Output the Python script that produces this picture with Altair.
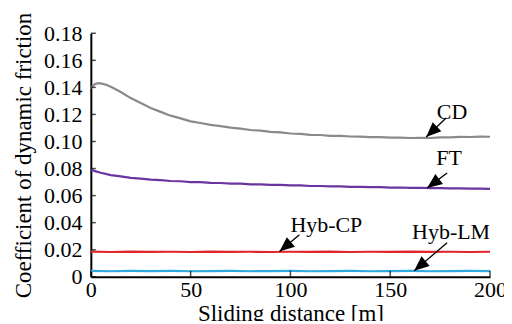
import math
import altair as alt
import pandas as pd

# ---------------- data ----------------
cd_x = [0, 2, 4, 6, 8, 10, 15, 20, 25, 30, 35, 40, 45, 50, 55, 60, 65, 70, 75, 80,
        85, 90, 95, 100, 105, 110, 115, 120, 125, 130, 135, 140, 145, 150, 155, 160,
        165, 170, 175, 180, 185, 190, 195, 200]
cd_y = [0.1395, 0.1425, 0.1431, 0.1426, 0.1418, 0.1405, 0.1366, 0.1321, 0.1284, 0.1247,
        0.1219, 0.1191, 0.1171, 0.1149, 0.1137, 0.1123, 0.1114, 0.1102, 0.1095, 0.1085,
        0.1080, 0.1071, 0.1067, 0.1059, 0.1056, 0.1049, 0.1048, 0.1042, 0.1041, 0.1037,
        0.1036, 0.1032, 0.1032, 0.1029, 0.1029, 0.1026, 0.1027, 0.1026, 0.1030, 0.1030,
        0.1034, 0.1033, 0.1036, 0.1035]

ft_x = [0, 2, 5, 10, 15, 20, 25, 30, 35, 40, 45, 50, 55, 60, 65, 70, 75, 80, 85, 90,
        95, 100, 105, 110, 115, 120, 125, 130, 135, 140, 145, 150, 155, 160, 165, 170,
        175, 180, 185, 190, 195, 200]
ft_y = [0.0795, 0.0781, 0.0769, 0.0751, 0.0742, 0.0731, 0.0726, 0.0718, 0.0715, 0.0708,
        0.0706, 0.0700, 0.0699, 0.0694, 0.0693, 0.0688, 0.0688, 0.0683, 0.0683, 0.0679,
        0.0679, 0.0675, 0.0675, 0.0671, 0.0671, 0.0668, 0.0668, 0.0665, 0.0665, 0.0662,
        0.0662, 0.0659, 0.0660, 0.0657, 0.0658, 0.0655, 0.0656, 0.0653, 0.0654, 0.0651,
        0.0652, 0.0650]

cp_x = [0, 10, 20, 30, 40, 50, 60, 70, 80, 90, 100, 110, 120, 130, 140, 150, 160, 170,
        180, 190, 200]
cp_y = [0.0186, 0.0183, 0.0186, 0.0184, 0.0185, 0.0183, 0.0186, 0.0184, 0.0185, 0.0183,
        0.0185, 0.0184, 0.0186, 0.0183, 0.0185, 0.0184, 0.0186, 0.0184, 0.0185, 0.0183,
        0.0185]

lm_x = [0, 10, 20, 30, 40, 50, 60, 70, 80, 90, 100, 110, 120, 130, 140, 150, 160, 170,
        180, 190, 200]
lm_y = [0.0043, 0.0041, 0.0043, 0.0042, 0.0043, 0.0041, 0.0042, 0.0043, 0.0041, 0.0042,
        0.0043, 0.0041, 0.0042, 0.0043, 0.0041, 0.0042, 0.0043, 0.0041, 0.0042, 0.0043,
        0.0042]

series_names = ["CD", "FT", "Hyb-CP", "Hyb-LM"]
series_colors = ["#8a8a8a", "#6a35a0", "#e0262b", "#2fa9df"]

x_ticks = [0, 50, 100, 150, 200]
y_ticks = [0, 0.02, 0.04, 0.06, 0.08, 0.10, 0.12, 0.14, 0.16, 0.18]

# annotations: label, text position, arrow tail, arrow tip (data units)
ann_label = ["CD", "FT", "Hyb-CP", "Hyb-LM"]
ann_text_x = [181, 179.5, 118, 180.5]
ann_text_y = [0.1217, 0.0878, 0.0384, 0.0330]
ann_tail_x = [178, 178.5, 104.5, 178.5]
ann_tail_y = [0.1173, 0.0767, 0.0310, 0.0251]
ann_tip_x = [168, 168.5, 94.5, 162]
ann_tip_y = [0.1033, 0.0657, 0.0186, 0.0044]

# ---------------- build ----------------
W, H = 400, 244
X_MAX, Y_MAX = 200, 0.18
FONT = "Liberation Serif"

rows = []
for name, xs_, ys_ in [("CD", cd_x, cd_y), ("FT", ft_x, ft_y),
                       ("Hyb-CP", cp_x, cp_y), ("Hyb-LM", lm_x, lm_y)]:
    for xv, yv in zip(xs_, ys_):
        rows.append({"series": name, "x": xv, "y": yv})
df = pd.DataFrame(rows)

kx = W / X_MAX
ky = H / Y_MAX
angles = []
for tx, ty, px, py in zip(ann_tail_x, ann_tail_y, ann_tip_x, ann_tip_y):
    dx = (px - tx) * kx
    dy = -(py - ty) * ky
    angles.append(math.degrees(math.atan2(dx, -dy)) % 360)

ann = pd.DataFrame({
    "label": ann_label, "tx": ann_text_x, "ty": ann_text_y,
    "ax": ann_tail_x, "ay": ann_tail_y, "bx": ann_tip_x, "by": ann_tip_y,
    "angle": angles,
})

xs = alt.Scale(domain=[0, X_MAX], nice=False, zero=False)
ys = alt.Scale(domain=[0, Y_MAX], nice=False, zero=False)

x_axis = alt.Axis(values=x_ticks, title="Sliding distance [m]", grid=False,
                  domainColor="black", domainWidth=2, ticks=False, labelPadding=3,
                  labelFont=FONT, labelFontSize=22, labelColor="black",
                  labelOverlap=False,
                  titleFont=FONT, titleFontSize=23, titleFontWeight="normal",
                  titleColor="black", titlePadding=2, labelFlush=False)
y_axis = alt.Axis(values=y_ticks, title="Coefficient of dynamic friction", grid=False,
                  domainColor="black", domainWidth=2, ticks=False, labelPadding=9,
                  labelExpr="datum.value == 0 ? '0' : format(datum.value, '.2f')",
                  labelFont=FONT, labelFontSize=22, labelColor="black",
                  labelOverlap=False,
                  titleFont=FONT, titleFontSize=23, titleFontWeight="normal",
                  titleColor="black", titlePadding=8, labelFlush=False)


def X(field):
    return alt.X(field, type="quantitative", scale=xs, axis=x_axis)


def Y(field):
    return alt.Y(field, type="quantitative", scale=ys, axis=y_axis)


lines = alt.Chart(df).mark_line(strokeWidth=2.2).encode(
    x=X("x"), y=Y("y"),
    color=alt.Color("series:N", scale=alt.Scale(domain=series_names, range=series_colors),
                    legend=None),
    detail="series:N",
)

ytick_df = pd.DataFrame({"v": y_ticks})
yticks = alt.Chart(ytick_df).mark_tick(orient="horizontal", size=5, thickness=1.5,
                                       color="black", xOffset=2.5).encode(
    x=alt.value(0), y=Y("v"))
xtick_df = pd.DataFrame({"v": x_ticks})
xticks = alt.Chart(xtick_df).mark_tick(orient="vertical", size=6, thickness=1.5,
                                       color="black", yOffset=-3).encode(
    x=X("v"), y=alt.value(H))

shafts = alt.Chart(ann).mark_rule(color="black", strokeWidth=1.3).encode(
    x=X("ax"), y=Y("ay"), x2="bx:Q", y2="by:Q")
heads = alt.Chart(ann).mark_point(
    shape="M0,0L-0.42,1L0.42,1Z", filled=True, color="black", opacity=1, size=900
).encode(x=X("bx"), y=Y("by"), angle=alt.Angle("angle:Q", scale=None))
texts = alt.Chart(ann).mark_text(font=FONT, fontSize=22, color="black").encode(
    x=X("tx"), y=Y("ty"), text="label:N")

chart = alt.layer(lines, yticks, xticks, shafts, heads, texts).properties(
    width=W, height=H,
    background="white",
    autosize=alt.AutoSizeParams(type="none"),
    padding={"left": 83, "top": 25, "right": 14, "bottom": 44},
).configure_view(strokeWidth=0, stroke="transparent")

chart.save("out.html", embed_options={"renderer": "svg", "actions": False})
